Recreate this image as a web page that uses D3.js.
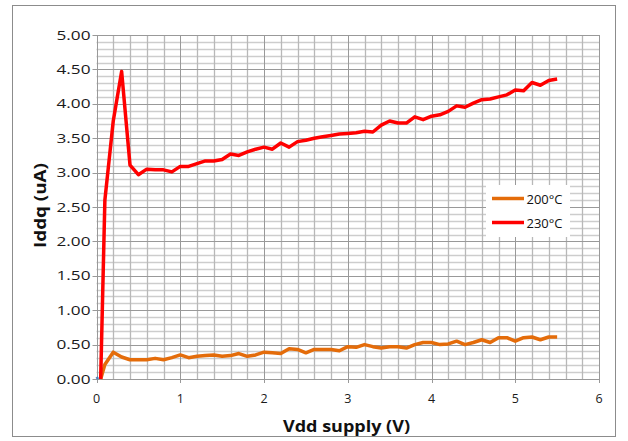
<!DOCTYPE html>
<html>
<head>
<meta charset="utf-8">
<script src="https://cdn.jsdelivr.net/npm/d3@7"></script>
<style>
  body { margin: 0; background: #fff; }
  svg { display: block; font-family: "Open Sans", sans-serif; }
</style>
</head>
<body>
<svg id="chart" width="628" height="441"></svg>
<script>
// Iddq vs Vdd supply, two temperatures.
var vdd = [0.05, 0.1, 0.2, 0.3, 0.4, 0.5, 0.6, 0.7, 0.8, 0.9,
  1.0, 1.1, 1.2, 1.3, 1.4, 1.5, 1.6, 1.7, 1.8, 1.9,
  2.0, 2.1, 2.2, 2.3, 2.4, 2.5, 2.6, 2.7, 2.8, 2.9,
  3.0, 3.1, 3.2, 3.3, 3.4, 3.5, 3.6, 3.7, 3.8, 3.9,
  4.0, 4.1, 4.2, 4.3, 4.4, 4.5, 4.6, 4.7, 4.8, 4.9,
  5.0, 5.1, 5.2, 5.3, 5.4, 5.5];

var iddq200 = [0.00, 0.21, 0.39, 0.32, 0.28, 0.28, 0.28, 0.30, 0.28, 0.31,
  0.35, 0.31, 0.33, 0.34, 0.35, 0.33, 0.34, 0.37, 0.33, 0.35,
  0.39, 0.38, 0.37, 0.44, 0.43, 0.38, 0.43, 0.43, 0.43, 0.41,
  0.47, 0.46, 0.50, 0.47, 0.45, 0.47, 0.47, 0.45, 0.50, 0.53,
  0.53, 0.50, 0.51, 0.55, 0.50, 0.53, 0.57, 0.53, 0.60, 0.60,
  0.55, 0.60, 0.61, 0.57, 0.61, 0.61];

var iddq230 = [0.00, 2.60, 3.75, 4.47, 3.11, 2.97, 3.05, 3.04, 3.04, 3.01,
  3.09, 3.09, 3.13, 3.17, 3.17, 3.19, 3.27, 3.25, 3.30, 3.34,
  3.37, 3.34, 3.43, 3.37, 3.45, 3.47, 3.50, 3.52, 3.54, 3.56,
  3.57, 3.58, 3.60, 3.59, 3.69, 3.75, 3.72, 3.72, 3.81, 3.77,
  3.82, 3.84, 3.89, 3.97, 3.95, 4.01, 4.06, 4.07, 4.10, 4.13,
  4.20, 4.19, 4.31, 4.27, 4.34, 4.36];

// tiny leftover series sitting at the origin
var stubX = [0, 0.02];
var stubY = [0.03, 0.0];

var seriesNames = ['200°C', '230°C'];
var seriesColors = ['#E46C0A', '#FF0000'];

var xTicks = [0, 1, 2, 3, 4, 5, 6];
var yTicks = [0, 0.5, 1, 1.5, 2, 2.5, 3, 3.5, 4, 4.5, 5];

var svg = d3.select('#chart');

var x = d3.scaleLinear().domain([0, 6]).range([96.5, 599]);
var y = d3.scaleLinear().domain([0, 5]).range([379, 35]);

// stretch a text to a given width, the source renders wide glyphs
function fit(sel, w) {
  sel.attr('textLength', w).attr('lengthAdjust', 'spacingAndGlyphs');
}

// chart area border
svg.append('rect')
  .attr('x', 12.5).attr('y', 5.5)
  .attr('width', 603).attr('height', 431)
  .attr('fill', '#fff')
  .attr('stroke', '#8c8c8c');

// grid
var grid = svg.append('g');
grid.selectAll('.hminor')
  .data(d3.range(0, 5.01, 0.1).filter(function(d) { return Math.abs(d * 2 - Math.round(d * 2)) > 0.01; }))
  .enter().append('line')
    .attr('y1', function(d) { return Math.round(y(d)) + 0.5; })
    .attr('y2', function(d) { return Math.round(y(d)) + 0.5; })
    .attr('x1', x(0)).attr('x2', x(6))
    .attr('stroke', '#cdcdcd').attr('stroke-width', 1.4);
grid.selectAll('.vminor')
  .data(d3.range(0, 6.01, 0.2).filter(function(d) { return Math.abs(d - Math.round(d)) > 0.01; }))
  .enter().append('line')
    .attr('x1', function(d) { return Math.round(x(d)) + 0.5; })
    .attr('x2', function(d) { return Math.round(x(d)) + 0.5; })
    .attr('y1', y(5)).attr('y2', y(0))
    .attr('stroke', '#b8b8b8').attr('stroke-width', 1.3);
grid.selectAll('.vmajor')
  .data(xTicks)
  .enter().append('line')
    .attr('x1', function(d) { return Math.round(x(d)) + 0.5; })
    .attr('x2', function(d) { return Math.round(x(d)) + 0.5; })
    .attr('y1', y(5)).attr('y2', y(0) + 4)
    .attr('stroke', '#999');
grid.selectAll('.hmajor')
  .data(yTicks)
  .enter().append('line')
    .attr('y1', function(d) { return Math.round(y(d)) + 0.5; })
    .attr('y2', function(d) { return Math.round(y(d)) + 0.5; })
    .attr('x1', x(0) - 4).attr('x2', x(6))
    .attr('stroke', '#999');

// tick labels
svg.append('g').selectAll('text')
  .data(yTicks)
  .enter().append('text')
    .attr('x', 90.5)
    .attr('y', function(d) { return y(d) + 4.5; })
    .attr('text-anchor', 'end')
    .attr('font-size', 12.5)
    .attr('fill', '#1a1a1a')
    .text(function(d) { return d3.format('.2f')(d); })
    .call(fit, 34);

svg.append('g').selectAll('text')
  .data(xTicks)
  .enter().append('text')
    .attr('x', function(d) { return x(d); })
    .attr('y', 403)
    .attr('text-anchor', 'middle')
    .attr('font-size', 12.5)
    .attr('fill', '#1a1a1a')
    .text(function(d) { return d; });

// axis titles
svg.append('text')
  .attr('x', 346.5).attr('y', 432)
  .attr('text-anchor', 'middle')
  .attr('font-size', 16).attr('font-weight', 'bold')
  .attr('fill', '#111')
  .text('Vdd supply (V)')
  .call(fit, 127);

svg.append('text')
  .attr('transform', 'translate(46,205.5) rotate(-90)')
  .attr('text-anchor', 'middle')
  .attr('font-size', 16).attr('font-weight', 'bold')
  .attr('fill', '#111')
  .text('Iddq (uA)')
  .call(fit, 85);

// series lines
var line = d3.line()
  .x(function(d) { return x(d[0]); })
  .y(function(d) { return y(d[1]); });

svg.append('path')
  .datum(d3.zip(stubX, stubY))
  .attr('d', line)
  .attr('fill', 'none')
  .attr('stroke', '#4F81BD')
  .attr('stroke-width', 2.5);

[iddq200, iddq230].forEach(function(vals, i) {
  svg.append('path')
    .datum(d3.zip(vdd, vals))
    .attr('d', line)
    .attr('fill', 'none')
    .attr('stroke', seriesColors[i])
    .attr('stroke-width', 3.5)
    .attr('stroke-linejoin', 'round');
});

// legend
var legend = svg.append('g').attr('transform', 'translate(486,185)');
legend.append('rect')
  .attr('width', 84).attr('height', 52)
  .attr('fill', '#fff');
var item = legend.selectAll('.item')
  .data(seriesNames)
  .enter().append('g')
    .attr('transform', function(d, i) { return 'translate(0,' + (13.5 + i * 24) + ')'; });
item.append('line')
  .attr('x1', 6).attr('x2', 38)
  .attr('stroke', function(d, i) { return seriesColors[i]; })
  .attr('stroke-width', 3.5);
item.append('text')
  .attr('x', 40.5).attr('y', 5)
  .attr('font-size', 13)
  .attr('fill', '#111')
  .text(function(d) { return d; })
  .call(fit, 36);
</script>
</body>
</html>
